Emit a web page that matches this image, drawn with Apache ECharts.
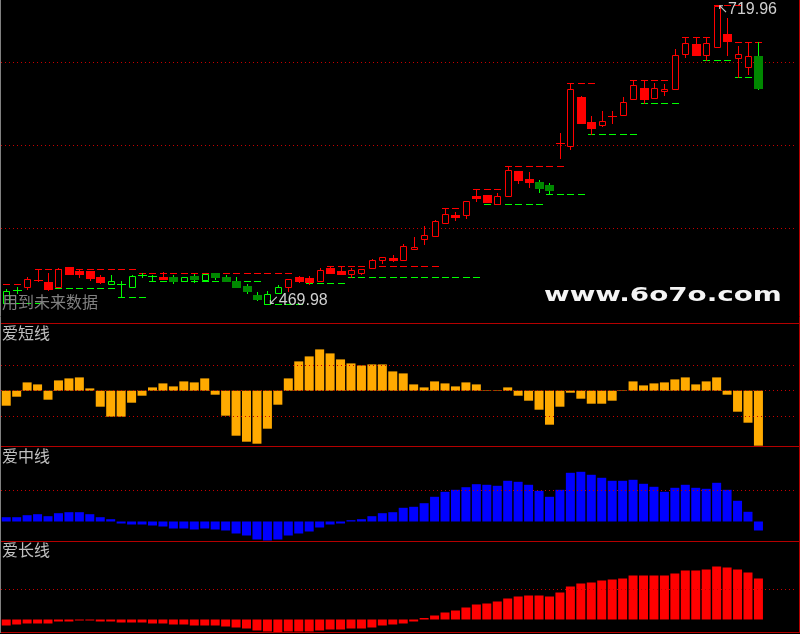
<!DOCTYPE html>
<html><head><meta charset="utf-8">
<script src="https://cdn.jsdelivr.net/npm/echarts@6/dist/echarts.min.js"></script>
<style>html,body{margin:0;padding:0;background:#000;}#c{width:800px;height:634px;}</style>
</head><body><div id="c"></div>
<script>
// ---------- data ----------
const slotCount = 76; // 73 trading days + 3 empty slots on the right
const opens = [470.83,481.70,484.21,490.06,488.39,484.21,500.93,497.58,497.58,492.57,
  486.72,486.72,484.21,494.24,493.40,492.57,492.57,489.22,493.40,490.06,
  495.91,492.57,489.22,485.04,477.52,469.98,479.19,484.21,492.57,491.73,
  489.22,500.09,497.58,495.08,495.91,500.09,506.78,508.45,506.78,515.98,
  524.34,526.84,537.71,544.40,544.40,560.28,561.12,553.60,560.28,581.18,
  574.50,571.99,569.48,604.59,602.10,643.05,622.15,619.64,627.16,628.00,
  641.38,650.57,642.21,648.06,649.74,679.00,687.36,678.16,684.85,695.72,
  675.65,668.13,677.32];
const closes = [480.86,480.86,490.90,490.06,482.54,499.25,495.08,495.08,491.73,488.39,
  489.22,486.72,493.40,494.24,493.40,490.90,489.22,492.57,490.90,495.08,
  492.57,489.22,484.21,480.86,474.18,478.36,484.21,490.90,489.22,488.39,
  498.42,495.91,495.08,498.42,499.25,506.78,509.29,506.78,518.48,517.65,
  527.68,539.38,545.24,542.73,556.10,558.61,555.27,560.28,582.02,573.66,
  571.99,566.97,565.30,604.59,649.74,621.31,617.13,622.98,627.16,638.87,
  653.08,641.38,650.57,649.74,678.16,688.19,678.16,688.19,719.12,689.86,
  679.00,677.32,650.57];
const lows = [470.83,479.19,482.54,489.22,481.70,484.21,495.08,492.57,490.06,487.55,
  486.72,475.85,484.21,492.57,489.22,490.90,487.55,489.22,488.39,490.06,
  490.90,489.22,484.21,479.19,473.34,469.98,479.19,480.86,488.39,486.72,
  489.22,495.91,495.08,492.57,495.08,500.09,504.27,505.94,506.78,515.98,
  520.16,526.84,537.71,540.22,541.89,556.10,555.27,553.60,560.28,571.15,
  567.81,563.63,561.96,592.05,599.58,621.31,612.12,618.80,621.31,628.00,
  641.38,638.03,642.21,644.72,649.74,676.49,678.16,673.98,684.85,678.16,
  659.77,662.28,649.74];
const highs = [482.54,484.21,492.57,499.25,495.91,500.09,500.93,499.25,497.58,494.24,
  494.24,489.22,494.24,495.91,494.24,496.75,494.24,492.57,495.08,495.08,
  495.91,494.24,492.57,486.72,480.03,480.86,485.88,490.90,493.40,493.40,
  500.09,501.76,500.93,500.09,499.25,507.62,509.29,510.96,520.16,526.01,
  535.20,540.22,550.25,546.91,556.10,566.14,561.12,562.79,585.36,581.18,
  580.35,573.66,571.15,612.95,654.75,643.88,627.16,631.34,631.34,643.05,
  657.26,657.26,654.75,653.92,683.18,693.21,693.21,693.21,719.96,709.09,
  685.68,689.03,689.03];
// candle colour group: 'r' red, 'g' green
const trend = ['g','g','r','r','r','r','r','r','r','r',
  'g','g','g','g','g','r','g','g','g','g',
  'g','g','g','g','g','g','g','r','r','r',
  'r','r','r','r','r','r','r','r','r','r',
  'r','r','r','r','r','r','r','r','r','r',
  'r','g','g','r','r','r','r','r','r','r',
  'r','r','r','r','r','r','r','r','r','r',
  'r','r','g'];
// dashed resistance / support segments: [startDay, endDay, price]
const resLines = [[0,1,486.72],[3,12,499.25],[13,27,495.91],[31,41,501.76],[42,43,550.25],
  [45,47,566.14],[48,53,585.36],[54,56,654.75],[60,64,657.26],[65,67,693.21],
  [68,70,719.96],[70,72,689.03]];
const supLines = [[0,3,470.83],[4,10,483.37],[11,13,475.85],[14,24,489.22],[25,28,469.98],
  [29,32,487.55],[33,45,492.57],[46,51,553.60],[52,55,561.96],[56,60,612.12],
  [61,64,638.03],[67,69,673.98],[70,72,659.77]];
const priceGrid = [533.11, 602.50, 671.89];
const extremes = [{day:68, price:719.96, text:'719.96'}, {day:25, price:469.98, text:'469.98'}];

const shortLine = [-15,-6,8.3,6.3,-9,10.3,12.3,13.3,2.3,-16,
  -26,-26,-12,-5,3.3,7.3,4.3,9.3,8.3,12.3,
  -4,-25,-45,-51,-53,-38,-14,12.3,29.3,34.3,
  41.3,37.3,31.3,27.3,25.3,26.3,26.3,19.3,17.3,6.3,
  3.3,9.3,7.3,4.3,8.3,6.3,0.5,0.5,3.3,-5,
  -10,-19,-34,-16,-2,-8,-13,-13,-10,0.5,
  9.3,5.3,7.3,8.3,11.3,13.3,6.3,9.3,13.3,-4,
  -21,-32,-55];
const midLine = [4.3,4.3,6.3,7.3,5.3,8.3,9.3,9.3,7.3,4.3,
  2.3,-2,-3,-3,-4,-5,-7,-7,-8,-7,
  -8,-9,-12,-14,-18,-19,-18,-14,-12,-10,
  -6,-3,-2,1.3,2.3,5.3,8.3,9.3,13.7,14.7,
  18.3,24.7,29.7,31.7,34.3,37.3,36.7,35.7,40.7,39.7,
  36.7,30.7,24.7,31.7,48.7,49.7,46.7,43.7,40.7,40.7,
  41.7,37.7,34.7,29.7,33.7,36.7,33.7,32.7,38.7,31.7,
  20.7,9.7,-9];
const longLine = [-6,-5,-4,-4,-4,-2,-2,-1,-1,-2,
  -2,-3,-3,-3,-4,-4,-5,-5,-6,-6,
  -6,-7,-8,-9,-11,-12,-13,-12,-12,-12,
  -11,-10,-10,-9,-9,-8,-6,-5,-4,-2,
  1.5,4,7,9,12,15,16,18,21,23,
  24,24,23,27,33,36,37,39,40,41,
  44,44,44,44,46,49,49,50,53,52,
  50,47,41];
const shortGrid = [-25.5, 0, 25.5];
const midGrid = [31];
const longGrid = [30.3];

// ---------- chart ----------
const slots = Array.from({length: slotCount}, (_, i) => String(i));
const candleData = opens.map((o, i) => [i, o, closes[i], lows[i], highs[i], trend[i] === 'g' ? 1 : 0]);

function candleItem(params, api) {
  const i = api.value(0), o = api.value(1), c = api.value(2), lo = api.value(3), hi = api.value(4), g = api.value(5);
  const X = Math.round(api.coord([i, o])[0]);
  const yo = api.coord([i, o])[1], yc = api.coord([i, c])[1];
  const yl = api.coord([i, lo])[1], yh = api.coord([i, hi])[1];
  const bright = g ? '#00ff00' : '#ff0000';
  const fill = g ? '#008800' : '#ff0000';
  const kids = [{type: 'line', shape: {x1: X + 0.5, y1: Math.round(yh), x2: X + 0.5, y2: Math.round(yl) + 1}, style: {stroke: bright, lineWidth: 1}}];
  const T = Math.round(Math.min(yo, yc)), B = Math.round(Math.max(yo, yc));
  if (B - T < 1.5) {
    kids.push({type: 'line', shape: {x1: X - 4, y1: T + 0.5, x2: X + 5, y2: T + 0.5}, style: {stroke: bright, lineWidth: 1}});
  } else if (c > o) {
    kids.push({type: 'rect', shape: {x: X - 2.5, y: T + 0.5, width: 6, height: B - T}, style: {fill: '#000', stroke: bright, lineWidth: 1}});
  } else {
    kids.push({type: 'rect', shape: {x: X - 4, y: T, width: 9, height: B - T + 1}, style: {fill: fill}});
  }
  return {type: 'group', children: kids};
}
function segItem(color) {
  return function (params, api) {
    const s = api.value(0), e = api.value(1), v = api.value(2);
    const kids = [];
    for (let k = s; k <= e; k++) {
      const p = api.coord([k, v]);
      const X = Math.round(p[0]), Y = Math.floor(p[1]) + 0.5;
      kids.push({type: 'line', shape: {x1: X - 3, y1: Y, x2: X + 4, y2: Y}, style: {stroke: color, lineWidth: 1}});
    }
    return {type: 'group', children: kids};
  };
}
const dotted = {color: '#c80000', type: [1, 3], width: 1};
function gridLines(vals) {
  return {silent: true, symbol: 'none', label: {show: false}, lineStyle: dotted, emphasis: {disabled: true},
    data: vals.map(v => ({yAxis: v}))};
}

const grids = [
  {left: 1, right: 5, top: 0, height: 323},
  {left: 1, right: 5, top: 323, height: 123.5},
  {left: 1, right: 5, top: 446.5, height: 94.5},
  {left: 1, right: 5, top: 541, height: 91}
];
const xAxes = grids.map((g, i) => ({type: 'category', gridIndex: i, data: slots, boundaryGap: true, show: false}));
const yAxes = [
  {type: 'value', gridIndex: 0, min: 454.14, max: 724.14, show: false},
  {type: 'value', gridIndex: 1, min: -55.8, max: 67.7, show: false},
  {type: 'value', gridIndex: 2, min: -19.5, max: 75, show: false},
  {type: 'value', gridIndex: 3, min: -12.5, max: 78.5, show: false}
];

const labelFont = '"Noto Sans CJK SC", sans-serif';
const chart = echarts.init(document.getElementById('c'), null, {renderer: 'canvas'});
chart.setOption({
  backgroundColor: '#000',
  animation: false,
  grid: grids,
  xAxis: xAxes,
  yAxis: yAxes,
  series: [
    {type: 'custom', xAxisIndex: 0, yAxisIndex: 0, renderItem: candleItem, data: candleData,
      encode: {x: 0, y: [1, 2, 3, 4]}, z: 5,
      markLine: gridLines(priceGrid),
      markPoint: {
        symbol: 'circle', symbolSize: 1, itemStyle: {color: 'rgba(0,0,0,0)'}, silent: true,
        data: [
          {coord: [extremes[0].day, extremes[0].price], value: extremes[0].text,
            label: {show: true, position: 'right', distance: 0, offset: [0, 5], formatter: '{a|↖}{b|' + extremes[0].text + '}',
              rich: {a: {color: '#c8c8c8', fontSize: 13, fontFamily: 'DejaVu Sans'}, b: {color: '#d0d0d0', fontSize: 16, fontFamily: 'Liberation Sans'}}}},
          {coord: [extremes[1].day, extremes[1].price], value: extremes[1].text,
            label: {show: true, position: 'right', distance: 0, offset: [0, -3], formatter: '{a|↙}{b|' + extremes[1].text + '}',
              rich: {a: {color: '#c8c8c8', fontSize: 13, fontFamily: 'DejaVu Sans'}, b: {color: '#d0d0d0', fontSize: 16, fontFamily: 'Liberation Sans'}}}}
        ]
      }},
    {type: 'custom', xAxisIndex: 0, yAxisIndex: 0, renderItem: segItem('#ff0000'), data: resLines, encode: {x: [0, 1], y: 2}, z: 4},
    {type: 'custom', xAxisIndex: 0, yAxisIndex: 0, renderItem: segItem('#00ff00'), data: supLines, encode: {x: [0, 1], y: 2}, z: 4},
    {type: 'bar', xAxisIndex: 1, yAxisIndex: 1, data: shortLine, barWidth: 9, itemStyle: {color: '#ffaa00'},
      markLine: gridLines(shortGrid), z: 3},
    {type: 'bar', xAxisIndex: 2, yAxisIndex: 2, data: midLine, barWidth: 9, itemStyle: {color: '#0000ff'},
      markLine: gridLines(midGrid), z: 3},
    {type: 'bar', xAxisIndex: 3, yAxisIndex: 3, data: longLine, barWidth: 9, itemStyle: {color: '#ff0000'},
      markLine: gridLines(longGrid), z: 3}
  ],
  graphic: [
    {type: 'line', shape: {x1: 0, y1: 323.5, x2: 800, y2: 323.5}, style: {stroke: '#b40000', lineWidth: 1}, z: 50},
    {type: 'line', shape: {x1: 0, y1: 446.5, x2: 800, y2: 446.5}, style: {stroke: '#b40000', lineWidth: 1}, z: 50},
    {type: 'line', shape: {x1: 0, y1: 541.5, x2: 800, y2: 541.5}, style: {stroke: '#b40000', lineWidth: 1}, z: 50},
    {type: 'line', shape: {x1: 0, y1: 632.5, x2: 800, y2: 632.5}, style: {stroke: '#b40000', lineWidth: 1}, z: 50},
    {type: 'line', shape: {x1: 799.5, y1: 0, x2: 799.5, y2: 633}, style: {stroke: '#b40000', lineWidth: 1}, z: 50},
    {type: 'line', shape: {x1: 0.5, y1: 0, x2: 0.5, y2: 633}, style: {stroke: '#808080', lineWidth: 1}, z: 50},
    {type: 'text', left: 2, top: 294, z: 60, style: {text: '用到未来数据', fill: '#808080', font: '16px ' + labelFont}},
    {type: 'text', left: 2, top: 325, z: 60, style: {text: '爱短线', fill: '#c0c0c0', font: '16px ' + labelFont}},
    {type: 'text', left: 2, top: 448, z: 60, style: {text: '爱中线', fill: '#c0c0c0', font: '16px ' + labelFont}},
    {type: 'text', left: 2, top: 542, z: 60, style: {text: '爱长线', fill: '#c0c0c0', font: '16px ' + labelFont}},
    {type: 'text', x: 544, y: 295.5, scaleX: 1.39, z: 60,
      style: {text: 'www.6o7o.com', fill: '#f4f4f4', font: 'bold 20px "DejaVu Sans"', textAlign: 'left', textVerticalAlign: 'middle'}}
  ]
});
</script></body></html>
